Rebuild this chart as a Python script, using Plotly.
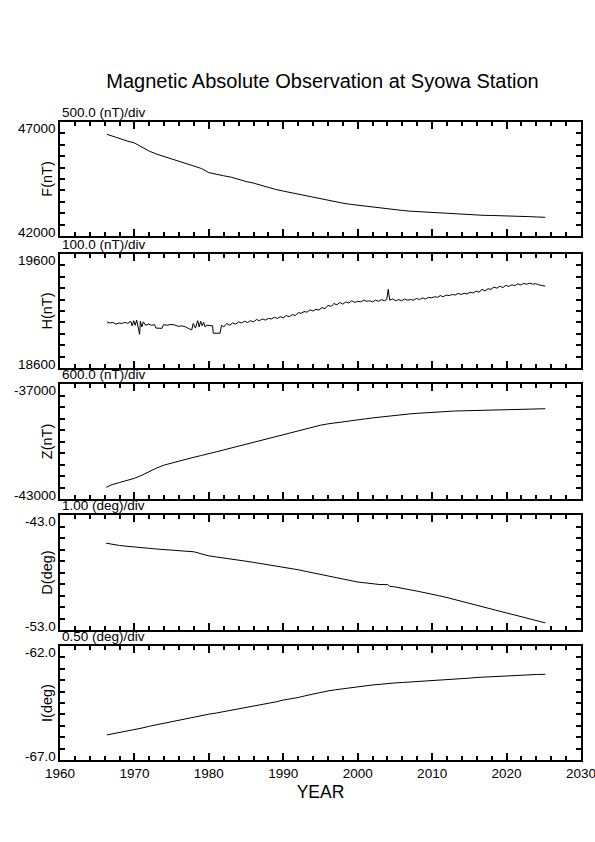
import plotly.graph_objects as go

# ---------------- data ----------------
f_year = [1966.3, 1967, 1968, 1969, 1970, 1971, 1972, 1973, 1974, 1975, 1976, 1977, 1978, 1979,
          1980, 1981, 1982, 1983, 1984, 1985, 1986, 1987, 1988, 1989, 1990, 1991, 1992, 1993,
          1994, 1995, 1996, 1997, 1998, 1999, 2000, 2001, 2002, 2003, 2004, 2005, 2006, 2007,
          2008, 2009, 2010, 2011, 2012, 2013, 2014, 2015, 2016, 2017, 2018, 2019, 2020, 2021,
          2022, 2023, 2024, 2025.2]
f_val = [46460, 46380, 46260, 46170, 46080, 45900, 45720, 45590, 45490, 45390, 45270, 45170, 45070, 44960,
         44780, 44700, 44640, 44580, 44480, 44390, 44320, 44220, 44130, 44040, 43970, 43900, 43840, 43770,
         43700, 43630, 43550, 43490, 43440, 43390, 43350, 43300, 43260, 43210, 43180, 43150, 43120, 43090,
         43070, 43050, 43030, 43000, 42980, 42960, 42935, 42920, 42910, 42905, 42900, 42895, 42890, 42880,
         42865, 42850, 42835, 42820]

h_year = [1966.3, 1966.7, 1967.1, 1967.5, 1967.9, 1968.3, 1968.7, 1969.1, 1969.5, 1969.7, 1969.9, 1970.1,
          1970.3, 1970.5, 1970.7, 1970.8, 1971.0, 1971.2, 1971.5, 1971.9, 1972.3, 1972.7, 1972.9, 1973.7,
          1973.9, 1974.4, 1974.9, 1975.4, 1975.9, 1976.4, 1976.9, 1977.3, 1977.7, 1977.9, 1978.2, 1978.5,
          1978.7, 1978.9, 1979.1, 1979.3, 1979.5, 1979.7, 1980.0, 1980.5, 1980.6, 1981.5, 1981.7, 1982.0,
          1982.4, 1982.8, 1983.2, 1983.6, 1984.0, 1984.4, 1984.8, 1985.2, 1985.6, 1986.0, 1986.4, 1986.8,
          1987.2, 1987.6, 1988.0, 1988.4, 1988.8, 1989.2, 1989.6, 1990.0, 1990.4, 1990.8, 1991.2, 1991.6,
          1992.0, 1992.4, 1992.8, 1993.2, 1993.6, 1994.0, 1994.4, 1994.8, 1995.2, 1995.6, 1996.0, 1996.4,
          1996.8, 1997.2, 1997.6, 1998.0, 1998.4, 1998.8, 1999.2, 1999.6, 2000.0, 2000.4, 2000.8, 2001.2,
          2001.6, 2002.0, 2002.4, 2002.8, 2003.2, 2003.6, 2003.9, 2004.1, 2004.3, 2004.7, 2005.1, 2005.5,
          2005.9, 2006.3, 2006.7, 2007.1, 2007.5, 2007.9, 2008.3, 2008.7, 2009.1, 2009.5, 2009.9, 2010.3,
          2010.7, 2011.1, 2011.5, 2011.9, 2012.3, 2012.7, 2013.1, 2013.5, 2013.9, 2014.3, 2014.7, 2015.1,
          2015.5, 2015.9, 2016.3, 2016.7, 2017.1, 2017.5, 2017.9, 2018.3, 2018.7, 2019.1, 2019.5, 2019.9,
          2020.3, 2020.7, 2021.1, 2021.5, 2021.9, 2022.3, 2022.7, 2023.1, 2023.5, 2023.9, 2024.3, 2024.7,
          2025.2]
h_val = [19005, 18995, 19000, 18985, 18995, 18990, 19000, 18992, 19010, 18970, 19015, 18975,
         19020, 18965, 18895, 19010, 18960, 19005, 18975, 18985, 18975, 18980, 18950, 18948,
         18980, 18975, 18982, 18978, 18965, 18970, 18960, 18945, 18935, 18990, 18950, 19015,
         18960, 19010, 18970, 19000, 18960, 18975, 18975, 18970, 18905, 18905, 18975, 18960,
         18990, 18975, 18995, 18985, 19005, 18995, 19010, 19000, 19015, 19005, 19025, 19015,
         19030, 19020, 19035, 19030, 19045, 19035, 19050, 19040, 19060, 19050, 19068, 19060,
         19085, 19080, 19095, 19090, 19110, 19100, 19115, 19108, 19130, 19120, 19150, 19140,
         19165, 19155, 19175, 19160, 19180, 19170, 19190, 19175, 19185, 19180, 19195, 19185,
         19190, 19180, 19195, 19185, 19200, 19190, 19200, 19290, 19195, 19205, 19190, 19200,
         19190, 19205, 19195, 19200, 19195, 19210, 19200, 19215, 19205, 19220, 19215, 19225,
         19220, 19235, 19225, 19240, 19235, 19245, 19240, 19255, 19245, 19255, 19250, 19265,
         19258, 19275, 19265, 19290, 19275, 19295, 19290, 19310, 19300, 19318, 19305, 19325,
         19315, 19330, 19322, 19338, 19328, 19342, 19335, 19345, 19335, 19340, 19330, 19325,
         19318]

z_year = [1966.2, 1967, 1968, 1969, 1970, 1971, 1972, 1973, 1974, 1975, 1976, 1977, 1978, 1979,
          1980, 1981, 1982, 1983, 1984, 1985, 1986, 1987, 1988, 1989, 1990, 1991, 1992, 1993,
          1994, 1995, 1996, 1997, 1998, 1999, 2000, 2001, 2002, 2003, 2004, 2005, 2006, 2007,
          2008, 2009, 2010, 2011, 2012, 2013, 2014, 2015, 2016, 2017, 2018, 2019, 2020, 2021,
          2022, 2023, 2024, 2025.2]
z_val = [-42390, -42250, -42140, -42040, -41920, -41760, -41560, -41380, -41230, -41120, -41010, -40930,
         -40820, -40730, -40650, -40540, -40440, -40340, -40240, -40130, -40030, -39920, -39820, -39710,
         -39610, -39520, -39430, -39340, -39250, -39150, -39080, -39020, -38960, -38910, -38870, -38820,
         -38770, -38720, -38680, -38640, -38600, -38560, -38530, -38500, -38470, -38450, -38430, -38410,
         -38400, -38390, -38380, -38365, -38350, -38340, -38330, -38320, -38310, -38300, -38295, -38290]

d_year = [1966.2, 1967, 1968, 1969, 1970, 1971, 1972, 1973, 1974, 1975, 1976, 1977, 1978, 1979,
          1980, 1981, 1982, 1983, 1984, 1985, 1986, 1987, 1988, 1989, 1990, 1991, 1992, 1993,
          1994, 1995, 1996, 1997, 1998, 1999, 2000, 2001, 2002, 2003, 2004, 2004.3, 2005, 2006,
          2007, 2008, 2009, 2010, 2011, 2012, 2013, 2014, 2015, 2016, 2017, 2018, 2019, 2020,
          2021, 2022, 2023, 2024, 2025.2]
d_val = [-45.45, -45.55, -45.65, -45.72, -45.80, -45.85, -45.90, -45.96, -46.00, -46.03, -46.06, -46.10,
         -46.20, -46.38, -46.55, -46.65, -46.73, -46.82, -46.92, -47.02, -47.12, -47.22, -47.32, -47.42,
         -47.52, -47.64, -47.76, -47.90, -48.04, -48.18, -48.33, -48.46, -48.59, -48.71, -48.83, -48.90,
         -48.98, -49.05, -49.05, -49.20, -49.25, -49.35, -49.50, -49.62, -49.74, -49.87, -50.03, -50.18,
         -50.35, -50.52, -50.70, -50.90, -51.05, -51.20, -51.37, -51.52, -51.68, -51.84, -52.00, -52.17,
         -52.38]

i_year = [1966.3, 1967, 1968, 1969, 1970, 1971, 1972, 1973, 1974, 1975, 1976, 1977, 1978, 1979,
          1980, 1981, 1982, 1983, 1984, 1985, 1986, 1987, 1988, 1989, 1990, 1991, 1992, 1993,
          1994, 1995, 1996, 1997, 1998, 1999, 2000, 2001, 2002, 2003, 2004, 2005, 2006, 2007,
          2008, 2009, 2010, 2011, 2012, 2013, 2014, 2015, 2016, 2017, 2018, 2019, 2020, 2021,
          2022, 2023, 2024, 2025.2]
i_val = [-65.90, -65.86, -65.80, -65.74, -65.68, -65.60, -65.52, -65.45, -65.38, -65.32, -65.26, -65.19,
         -65.12, -65.06, -64.99, -64.94, -64.88, -64.82, -64.76, -64.71, -64.66, -64.60, -64.53, -64.45,
         -64.37, -64.32, -64.26, -64.18, -64.10, -64.03, -63.97, -63.92, -63.87, -63.83, -63.79, -63.75,
         -63.71, -63.67, -63.64, -63.62, -63.60, -63.58, -63.56, -63.55, -63.54, -63.51, -63.48, -63.46,
         -63.43, -63.41, -63.38, -63.36, -63.34, -63.32, -63.30, -63.29, -63.27, -63.26, -63.25, -63.24]

panel_titles = ["F(nT)", "H(nT)", "Z(nT)", "D(deg)", "I(deg)"]
div_labels = ["500.0 (nT)/div", "100.0 (nT)/div", "600.0 (nT)/div", "1.00 (deg)/div", "0.50 (deg)/div"]
y_min = [42000, 18600, -43000, -53.0, -67.0]
y_max = [47000, 19600, -37000, -43.0, -62.0]
y_div = [500, 100, 600, 1.0, 0.5]
y_top_label = ["47000", "19600", "-37000", "-43.0", "-62.0"]
y_bot_label = ["42000", "18600", "-43000", "-53.0", "-67.0"]
x_range = [1960, 2030]

series = [(f_year, f_val), (h_year, h_val), (z_year, z_val), (d_year, d_val), (i_year, i_val)]

# ---------------- layout geometry ----------------
W, H = 595, 842
ML, MR, MT, MB = 60, 14, 122, 82
plot_h = H - MT - MB
panel_px = [(122, 236), (254, 368), (384, 499), (515, 630), (646, 760)]
domains = [[(760 - b) / plot_h, (760 - t) / plot_h] for (t, b) in panel_px]

FONT = "Liberation Sans, Arial, Helvetica, sans-serif"

fig = go.Figure()
layout = dict(
    width=W, height=H,
    margin=dict(l=ML, r=MR, t=MT, b=MB, autoexpand=False),
    paper_bgcolor="white", plot_bgcolor="white",
    showlegend=False,
    font=dict(family=FONT, size=13.5, color="black"),
)
annotations = []

for k in range(5):
    n = "" if k == 0 else str(k + 1)
    xs, ys = series[k]
    fig.add_trace(go.Scatter(x=xs, y=ys, mode="lines",
                             line=dict(color="black", width=1),
                             xaxis="x" + n, yaxis="y" + n, hoverinfo="skip"))
    xa = dict(range=x_range, domain=[0, 1], anchor="y" + n, automargin=False,
              showgrid=False, zeroline=False,
              showline=True, linecolor="black", linewidth=2, mirror="ticks",
              ticks="inside", ticklen=7, tickwidth=2, tickcolor="black",
              tick0=1960, dtick=10, ticklabeloverflow="allow",
              minor=dict(ticks="inside", dtick=2, tick0=1960, ticklen=4, tickwidth=2,
                         tickcolor="black", showgrid=False),
              showticklabels=(k == 4),
              tickfont=dict(family=FONT, size=13.5, color="black"))
    if k == 4:
        xa["title"] = dict(text="YEAR", font=dict(family=FONT, size=17.5, color="black"), standoff=6)
    else:
        xa["matches"] = "x5"
    ya = dict(range=[y_min[k], y_max[k]], domain=domains[k], anchor="x" + n, automargin=False,
              showgrid=False, zeroline=False,
              showline=True, linecolor="black", linewidth=2, mirror="ticks",
              ticks="inside", ticklen=5, tickwidth=2, tickcolor="black",
              tick0=y_min[k], dtick=y_div[k], showticklabels=False,
              title=dict(text=panel_titles[k], font=dict(family=FONT, size=14.5, color="black"),
                         standoff=2))
    layout["xaxis" + n] = xa
    layout["yaxis" + n] = ya

    # y-range labels (top & bottom of each panel)
    annotations.append(dict(text=y_top_label[k], x=0, y=y_max[k], xref="paper", yref="y" + n,
                            xanchor="right", yanchor="middle", xshift=-2, yshift=-6.5,
                            showarrow=False, font=dict(family=FONT, size=13.5, color="black")))
    annotations.append(dict(text=y_bot_label[k], x=0, y=y_min[k], xref="paper", yref="y" + n,
                            xanchor="right", yanchor="middle", xshift=-2, yshift=4,
                            showarrow=False, font=dict(family=FONT, size=13.5, color="black")))
    # per-division label above panel
    annotations.append(dict(text=div_labels[k], x=0, y=y_max[k], xref="paper", yref="y" + n,
                            xanchor="left", yanchor="bottom", xshift=0, yshift=0,
                            showarrow=False, font=dict(family=FONT, size=13.5, color="black")))

layout["annotations"] = annotations
layout["title"] = dict(text="Magnetic Absolute Observation at Syowa Station",
                       x=322.5 / W, xanchor="center", y=1 - 81 / H, yanchor="middle",
                       font=dict(family=FONT, size=20, color="black"))
fig.update_layout(**layout)
fig.write_html("out.html", config={"displayModeBar": False},
               post_script="document.body.style.margin='0';document.body.style.overflow='hidden';")
